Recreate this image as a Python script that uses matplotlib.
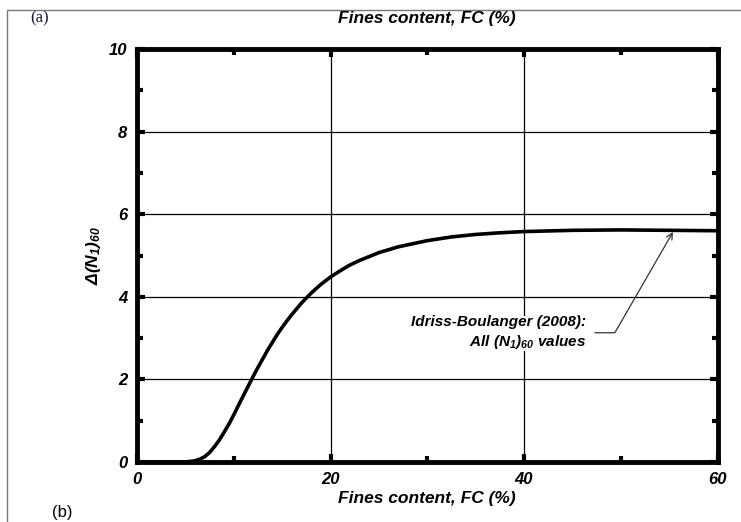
import matplotlib
matplotlib.use('Agg')
import matplotlib.pyplot as plt
from matplotlib.ticker import MultipleLocator
from matplotlib.patches import Rectangle

plt.rcParams['font.family'] = ['Liberation Sans', 'DejaVu Sans']
plt.rcParams['mathtext.fontset'] = 'custom'
plt.rcParams['mathtext.rm'] = 'Liberation Sans:bold:italic'
plt.rcParams['mathtext.it'] = 'Liberation Sans:bold:italic'
plt.rcParams['mathtext.bf'] = 'Liberation Sans:bold:italic'

# fines content (%) and correction
fc = [0, 4, 5, 6, 6.5, 7, 7.5, 8, 8.5, 9, 9.5, 10, 10.5, 11, 11.5, 12,
      12.5, 13, 13.5, 14, 14.5, 15, 15.5, 16, 17, 18, 19, 20, 21, 22, 23,
      25, 27, 30, 32.5, 35, 37.5, 40, 45, 50, 55, 60]
dn = [0, 0, 0.0, 0.03, 0.07, 0.13, 0.23, 0.37, 0.53, 0.72, 0.92, 1.14,
      1.38, 1.61, 1.84, 2.07, 2.29, 2.50, 2.71, 2.90, 3.09, 3.26, 3.42,
      3.57, 3.85, 4.09, 4.30, 4.48, 4.63, 4.77, 4.88, 5.07, 5.21, 5.36,
      5.45, 5.51, 5.55, 5.58, 5.61, 5.62, 5.61, 5.60]

xticks = [0, 20, 40, 60]
yticks = [0, 2, 4, 6, 8, 10]

fig = plt.figure(figsize=(7.41, 5.22), dpi=100)
ax = fig.add_axes([0.1849, 0.1149, 0.7834, 0.7912])

ax.plot(fc, dn, color='black', lw=2.6, solid_capstyle='butt', zorder=3)

ax.set_xlim(0, 60)
ax.set_ylim(0, 10)
ax.set_xticks(xticks)
ax.set_yticks(yticks)
ax.xaxis.set_minor_locator(MultipleLocator(10))
ax.yaxis.set_minor_locator(MultipleLocator(1))
ax.tick_params(which='both', direction='in', top=True, right=True,
               width=3, labelsize=12)
ax.tick_params(which='major', length=6, pad=7)
ax.tick_params(which='minor', length=4)
for lab in ax.get_xticklabels() + ax.get_yticklabels():
    lab.set_fontweight('bold')
    lab.set_fontstyle('italic')

ax.grid(True, which='major', color='black', lw=0.9)
for s in ax.spines.values():
    s.set_linewidth(3.5)

ax.set_xlabel('Fines content, FC (%)', fontsize=12.5, fontweight='bold',
              fontstyle='italic', labelpad=3)
ax.set_ylabel(r'$\Delta(N_1)_{60}$', fontsize=12.5, labelpad=4)
fig.text(0.576, 0.964, 'Fines content, FC (%)', fontsize=12.5,
         fontweight='bold', fontstyle='italic', ha='center', va='center')

ax.annotate('Idriss-Boulanger (2008):\n' + r'All $(N_1)_{60}$ values',
            xy=(55.4, 5.57), xytext=(46.4, 3.13),
            ha='right', va='center', multialignment='right',
            fontsize=11, fontweight='bold', fontstyle='italic',
            linespacing=1.3, zorder=4,
            bbox=dict(boxstyle='square,pad=0.05', fc='white', ec='none'),
            arrowprops=dict(arrowstyle='->', color='#333333', lw=0.9,
                            connectionstyle='angle,angleA=0,angleB=60,rad=0',
                            shrinkA=6, shrinkB=0))

fig.text(0.054, 0.964, '(a)', fontsize=12, family='Liberation Serif',
         color='#1a1a40', ha='center', va='center')
fig.text(0.084, 0.019, '(b)', fontsize=12, ha='center', va='center')

fig.patches.append(Rectangle((0.010, -0.05), 1.05, 1.031, transform=fig.transFigure,
                             fill=False, ec='#777777', lw=1.0))

fig.savefig('out.png', dpi=100)
